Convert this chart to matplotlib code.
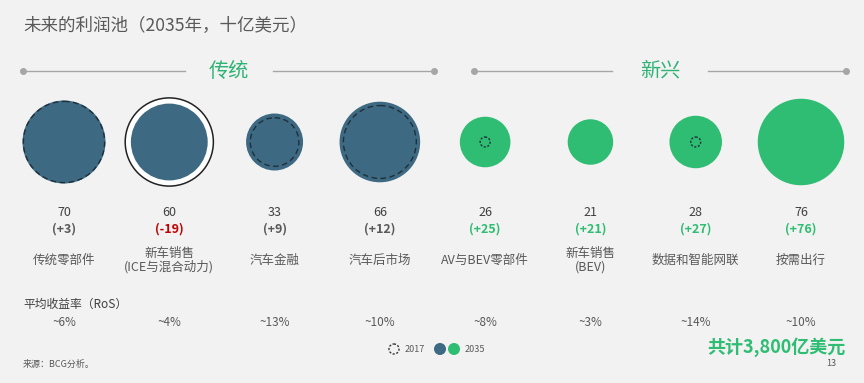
import numpy as np
import matplotlib
matplotlib.use('Agg')
import matplotlib.pyplot as plt
from matplotlib.patches import Circle

plt.rcParams['font.family'] = ['Noto Sans CJK SC', 'DejaVu Sans']

categories = ['传统零部件', '新车销售\n(ICE与混合动力)', '汽车金融', '汽车后市场',
              'AV与BEV零部件', '新车销售\n(BEV)', '数据和智能网联', '按需出行']
values_2035 = [70, 60, 33, 66, 26, 21, 28, 76]
changes = [3, -19, 9, 12, 25, 21, 27, 76]
ros = ['~6%', '~4%', '~13%', '~10%', '~8%', '~3%', '~14%', '~10%']
is_new = [False, False, False, False, True, True, True, True]

values_2017 = [v - c for v, c in zip(values_2035, changes)]

BG = '#f2f2f2'
BLUE = '#3d6a82'
GREEN = '#2ebd72'
HEAD_GREEN = '#2fb375'
GRAY = '#595959'
RED = '#c00000'

W, H = 864, 383
fig = plt.figure(figsize=(W / 100, H / 100), dpi=100, facecolor=BG)
ax = fig.add_axes([0, 0, 1, 1])
ax.set_xlim(0, W)
ax.set_ylim(H, 0)
ax.set_aspect('equal')
ax.axis('off')
ax.set_facecolor(BG)

# px per sqrt(billion), so circle area follows the value
k = 4.96
xs = np.linspace(64, 801, len(categories))
cy = 142

ax.text(23, 25, '未来的利润池（2035年，十亿美元）', fontsize=12.6, color=GRAY, va='center', ha='left')

# section headers
for x0, x1, xt0, xt1, label in [(23, 434, 185, 273, '传统'), (474, 846, 612, 708, '新兴')]:
    ax.plot([x0, xt0], [71, 71], color='#a6a6a6', lw=1)
    ax.plot([xt1, x1], [71, 71], color='#a6a6a6', lw=1)
    ax.plot([x0, x1], [71, 71], 'o', color='#a6a6a6', ms=4, lw=0)
    ax.text((xt0 + xt1) / 2, 71, label, fontsize=14.5, color=HEAD_GREEN, ha='center', va='center')

for i, x in enumerate(xs):
    color = GREEN if is_new[i] else BLUE
    r35 = k * np.sqrt(values_2035[i])
    r17 = k * np.sqrt(values_2017[i])
    if values_2017[i] > values_2035[i]:
        ax.add_patch(Circle((x, cy), r17, facecolor='white', edgecolor='#222222', lw=1.1, zorder=1))
        ax.add_patch(Circle((x, cy), r35, facecolor=color, edgecolor='none', zorder=2))
    else:
        ax.add_patch(Circle((x, cy), r35, facecolor=color, edgecolor='none', zorder=2))
        if values_2017[i] > 0:
            ax.add_patch(Circle((x, cy), r17, facecolor='none', edgecolor='#1f2f3a', lw=1,
                                ls=(0, (4, 2.5)) if r17 > 10 else (0, (1.5, 1.2)), zorder=3))

    ax.text(x, 213, str(values_2035[i]), fontsize=9, color='#404040', ha='center', va='center')
    if changes[i] < 0:
        ccol = RED
    elif is_new[i]:
        ccol = GREEN
    else:
        ccol = GRAY
    ax.text(x, 229, '(%+d)' % changes[i], fontsize=9, color=ccol, ha='center', va='center',
            fontweight='bold')
    lines = categories[i].split('\n')
    if len(lines) == 1:
        ax.text(x, 260, lines[0], fontsize=9, color=GRAY, ha='center', va='center')
    else:
        ax.text(x, 254, lines[0], fontsize=9, color=GRAY, ha='center', va='center')
        ax.text(x, 267, lines[1], fontsize=9, color=GRAY, ha='center', va='center')
    ax.text(x, 323, ros[i], fontsize=8.5, color=GRAY, ha='center', va='center')

ax.text(23, 304, '平均收益率（RoS）', fontsize=8.5, color='#404040', ha='left', va='center')

# legend
ax.add_patch(Circle((394, 349), 5, facecolor='none', edgecolor='#333333', lw=1, ls=(0, (1.5, 1.2))))
ax.text(405, 349, '2017', fontsize=6.5, color=GRAY, ha='left', va='center')
ax.add_patch(Circle((440, 349), 6, facecolor=BLUE, edgecolor='none'))
ax.add_patch(Circle((454, 349), 6, facecolor=GREEN, edgecolor='none'))
ax.text(465, 349, '2035', fontsize=6.5, color=GRAY, ha='left', va='center')

ax.text(846, 347, '共计3,800亿美元', fontsize=13, color=GREEN, fontweight='bold', ha='right', va='center')
ax.text(23, 364, '来源：BCG分析。', fontsize=6.5, color=GRAY, ha='left', va='center')
ax.text(836, 364, '13', fontsize=6.5, color=GRAY, ha='right', va='center')

fig.savefig('out.png', dpi=100, facecolor=BG)
